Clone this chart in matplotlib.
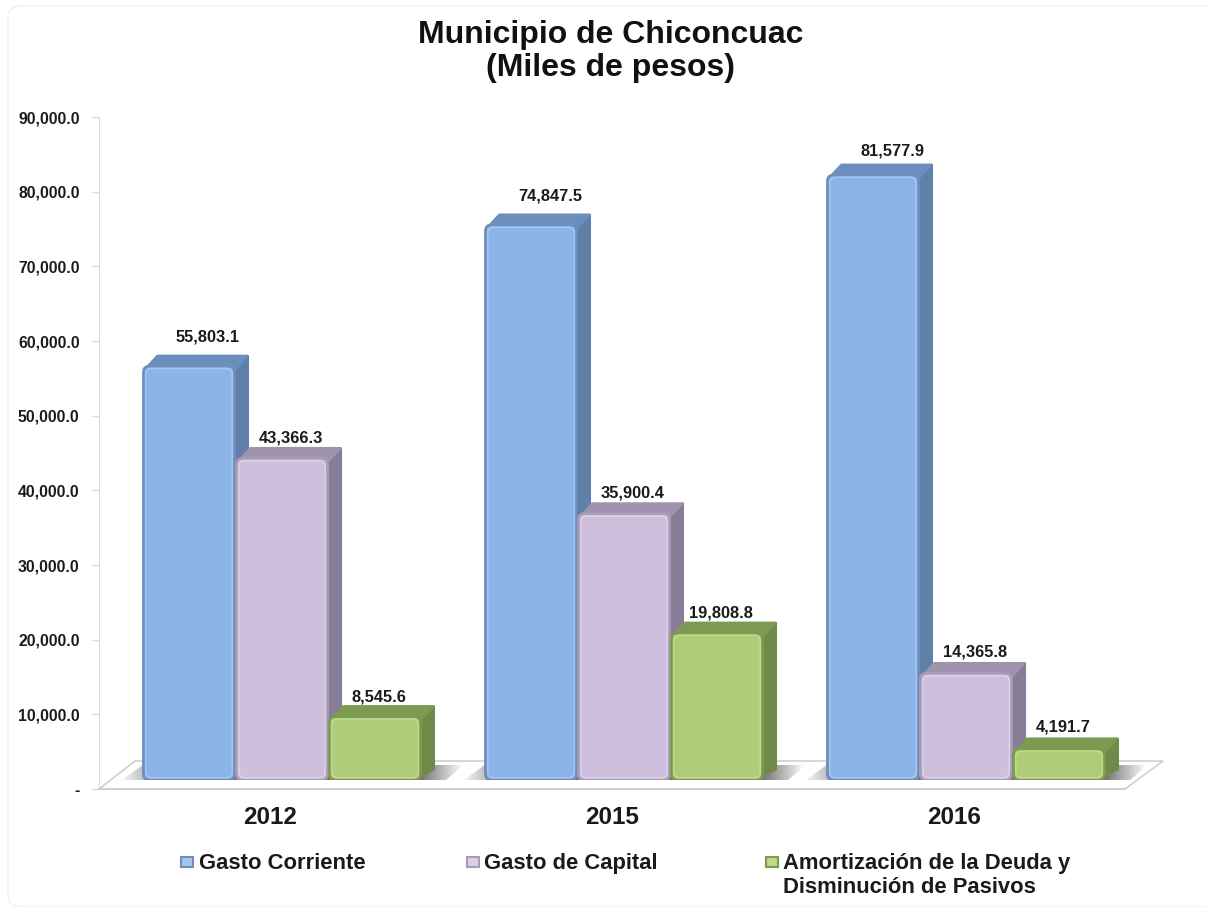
import matplotlib
matplotlib.use("Agg")
import matplotlib.pyplot as plt
import numpy as np
from matplotlib.patches import FancyBboxPatch, Polygon, Rectangle

plt.rcParams["font.family"] = ["Liberation Sans", "DejaVu Sans"]
plt.rcParams["font.weight"] = "bold"

# values
years = ["2012", "2015", "2016"]
gasto_corriente = [55803.1, 74847.5, 81577.9]
gasto_capital = [43366.3, 35900.4, 14365.8]
amortizacion = [8545.6, 19808.8, 4191.7]
y_ticks = [0, 10000, 20000, 30000, 40000, 50000, 60000, 70000, 80000, 90000]
y_tick_labels = ["-", "10,000.0", "20,000.0", "30,000.0", "40,000.0", "50,000.0",
                 "60,000.0", "70,000.0", "80,000.0", "90,000.0"]
series_names = ["Gasto Corriente", "Gasto de Capital",
                "Amortización de la Deuda y\nDisminución de Pasivos"]

W, H = 1207, 907
fig = plt.figure(figsize=(W / 100, H / 100), dpi=100, facecolor="white")


def axes_px(left, right, top, bottom):
    return [left / W, 1 - bottom / H, (right - left) / W, (bottom - top) / H]


# page frame
fig.add_artist(FancyBboxPatch((8 / W, 0 / H), 1300 / W, 901 / H, transform=fig.transFigure,
                              boxstyle="round,pad=0,rounding_size=0.012",
                              fc="white", ec="#f3f3f3", lw=1.2, zorder=-1))

# back axes carries the ticks, front axes the bars (the bars sit a little lower in scale)
ax = fig.add_axes(axes_px(99, 1125, 117, 789))
ax.set_xlim(-0.5, 2.5)
ax.set_ylim(0, 90000)
ax.patch.set_alpha(0)
ax.set_yticks(y_ticks)
ax.set_yticklabels(y_tick_labels, fontsize=11.3, color="#1a1a1a")
ax.set_xticks(range(3))
ax.set_xticklabels(years, fontsize=17.5, color="#1a1a1a")
ax.tick_params(axis="y", length=5, width=1, color="#d9d9d9", pad=9)
ax.tick_params(axis="x", length=0, pad=12)
for side in ["top", "right"]:
    ax.spines[side].set_visible(False)
ax.spines["left"].set_color("#dcdcdc")
ax.spines["bottom"].set_color("#cfcfcf")
ax.spines["bottom"].set_linewidth(1.5)

PX_X = 3 / (1125 - 99)
PX_Y = 10000 / 74.15
# same x scale as the back axes, only wider so the last shadow is not cut off
bars_xlim = (-0.5, -0.5 + (W - 99) * PX_X)
bars_ax = fig.add_axes(axes_px(99, W, 780 - 90000 / PX_Y, 780))
bars_ax.set_xlim(*bars_xlim)
bars_ax.set_ylim(0, 90000)
bars_ax.axis("off")

# floor, in the back axes
floor_h = 28 * 90000 / 672
ax.add_patch(Polygon([(-0.5, 0), (2.5, 0), (2.5 + 38 * PX_X, floor_h), (-0.5 + 36 * PX_X, floor_h)],
                     closed=True, fc="white", ec="#cfcfcf", lw=1.2, zorder=1, clip_on=False))

face_colors = ["#8DB4E6", "#CEBFDD", "#AFCC79"]
edge_colors = ["#6E8DBB", "#A99CB8", "#7E9A50"]
light_colors = ["#A3C6EF", "#DCD0E9", "#BFDA88"]
side_colors = ["#5F80A8", "#887D98", "#6F8A49"]
top_colors = ["#6B8FBC", "#9F93AD", "#7D9A52"]
series = [gasto_corriente, gasto_capital, amortizacion]

BAR_W = 91 * PX_X
STEP = 93 * PX_X
GROUP_SHIFT = 12 * PX_X
DEPTH_X = 14
DEPTH_Y = 11
ROUND = 6 * PX_X
ASPECT = PX_Y / PX_X

# shadow on the floor, fades out to the right of each group
for i in range(3):
    x0 = i + GROUP_SHIFT - 1.5 * STEP - 26 * PX_X
    x1 = i + GROUP_SHIFT + 1.5 * STEP + 42 * PX_X
    grad = np.zeros((20, 200, 4))
    xx = np.linspace(0, 1, 200)
    grad[..., :3] = 0.3
    grad[..., 3] = np.clip(np.minimum(xx * 6, (1 - xx) * 8), 0, 1) * 0.8
    im = bars_ax.imshow(grad, extent=[x0, x1, -4 * PX_Y, 15 * PX_Y], aspect="auto", zorder=1,
                        interpolation="bilinear")
    clip = Polygon([(x0, -4 * PX_Y), (x1 - 22 * PX_X, -4 * PX_Y), (x1, 15 * PX_Y),
                    (x0 + 26 * PX_X, 15 * PX_Y)], closed=True, transform=bars_ax.transData)
    im.set_clip_path(clip)
bars_ax.set_xlim(*bars_xlim)
bars_ax.set_ylim(0, 90000)

label_dx = [19, 9, 4]
label_dy = [[29, 20, 20], [29, 21, 20], [24, 21, 22]]

for s, values in enumerate(series):
    for i, v in enumerate(values):
        left = i + GROUP_SHIFT + (s - 1.5) * STEP + (STEP - BAR_W) / 2
        right = left + BAR_W
        dx, dy = DEPTH_X * PX_X, DEPTH_Y * PX_Y
        z = 3 + s
        # side and top faces, wide round joins soften the corners
        bars_ax.add_patch(Polygon([(right - ROUND, 2 * PX_Y), (right + dx - PX_X, dy), (right + dx - PX_X, v + dy - PX_Y),
                                   (right - ROUND, v)], closed=True, fc=side_colors[s],
                                  ec=side_colors[s], lw=2.2, joinstyle="round", zorder=z))
        bars_ax.add_patch(Polygon([(left + 2 * PX_X, v - 3 * PX_Y), (left + dx, v + dy - PX_Y),
                                   (right + dx - 2 * PX_X, v + dy - PX_Y), (right, v - 3 * PX_Y)],
                                  closed=True, fc=top_colors[s],
                                  ec=top_colors[s], lw=2.2, joinstyle="round", zorder=z))
        # front face
        for fc, ec, lw, inset in [(face_colors[s], edge_colors[s], 2, 0),
                                  ("none", light_colors[s], 1.2, 2.2)]:
            bars_ax.add_patch(FancyBboxPatch(
                (left + inset * PX_X, inset * PX_Y), BAR_W - 2 * inset * PX_X, v - 2 * inset * PX_Y,
                boxstyle=f"round,pad=0,rounding_size={ROUND}", mutation_aspect=ASPECT,
                fc=fc, ec=ec, lw=lw, zorder=z + 0.1))
        bars_ax.text((left + right) / 2 + label_dx[s] * PX_X, v + label_dy[i][s] * PX_Y,
                     f"{v:,.1f}", ha="center", va="center", fontsize=11.8,
                     color="#1a1a1a", zorder=10)

fig.text(611 / W, 1 - 35 / H, "Municipio de Chiconcuac", ha="center", va="center",
         fontsize=23, color="#111111")
fig.text(611 / W, 1 - 68 / H, "(Miles de pesos)", ha="center", va="center",
         fontsize=23, color="#111111")

# legend
legend_box_x = [181, 467, 766]
legend_text_x = [199, 484, 783]
for s, name in enumerate(series_names):
    fig.add_artist(Rectangle((legend_box_x[s] / W, 1 - 867 / H), 12 / W, 10 / H,
                             transform=fig.transFigure, fc=light_colors[s], ec=edge_colors[s], lw=1.5))
    fig.text(legend_text_x[s] / W, 1 - 853 / H, name, ha="left", va="top", fontsize=15.8,
             color="#1a1a1a", linespacing=1.18)

fig.savefig("out.png", dpi=100)
